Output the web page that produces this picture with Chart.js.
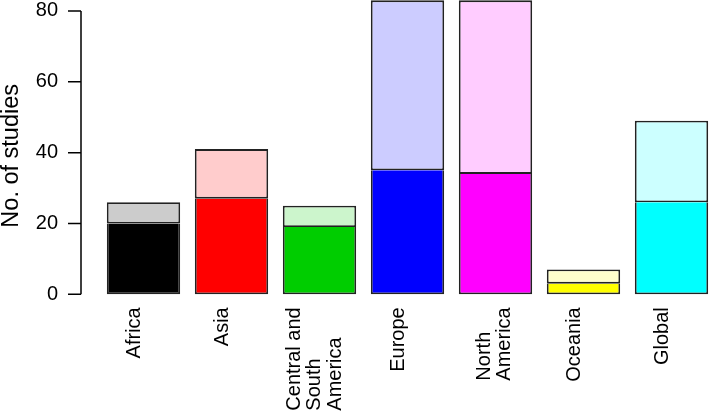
<!DOCTYPE html>
<html>
<head>
<meta charset="utf-8">
<title>Studies by region</title>
<script src="https://cdn.jsdelivr.net/npm/chart.js@4/dist/chart.umd.min.js"></script>
<style>
  html, body { margin: 0; padding: 0; background: #fff; overflow: hidden; }
  #wrap { position: relative; width: 720px; height: 411px; }
</style>
</head>
<body>
<div id="wrap"><canvas id="studiesChart"></canvas></div>
<script>
// Data
const regions = [
  ["Africa"],
  ["Asia"],
  ["Central and", "South", "America"],
  ["Europe"],
  ["North", "America"],
  ["Oceania"],
  ["Global"],
];
const lowerCounts = [20, 27, 19, 35, 34, 3, 26];
const upperCounts = [6, 14, 6, 48, 49, 4, 23];
const yTicks = [0, 20, 40, 60, 80];

const lowerColours = ["#000000", "#ff0000", "#00cd00", "#0000ff", "#ff00ff", "#ffff00", "#00ffff"];
const upperColours = ["#cccccc", "#ffcccc", "#ccf5cc", "#ccccff", "#ffccff", "#ffffcc", "#ccffff"];

const FONT = "'Liberation Sans', Arial, Helvetica, sans-serif";

// R style axis: line only between first and last tick, ticks pointing out
const rAxisPlugin = {
  id: "rAxis",
  afterDraw(chart) {
    const ctx = chart.ctx;
    const y = chart.scales.y;
    const x = chart.scales.x;
    const axisX = y.right - 18.5;

    ctx.save();
    ctx.strokeStyle = "#000";
    ctx.lineWidth = 1.5;
    ctx.beginPath();
    ctx.moveTo(axisX, y.getPixelForValue(yTicks[0]));
    ctx.lineTo(axisX, y.getPixelForValue(yTicks[yTicks.length - 1]));
    yTicks.forEach((v) => {
      const py = y.getPixelForValue(v);
      ctx.moveTo(axisX - 13, py);
      ctx.lineTo(axisX, py);
    });
    ctx.stroke();

    // vertical category labels, lines start together at the bottom
    const lineGap = 20.5;
    const blockShift = { 1: -9, 2: -1, 3: -5 };
    const top = y.getPixelForValue(0) + 13;
    ctx.font = "20px " + FONT;
    ctx.fillStyle = "#000";
    ctx.textBaseline = "middle";
    ctx.textAlign = "left";
    chart.data.labels.forEach((lines, i) => {
      const cx = x.getPixelForValue(i);
      const n = lines.length;
      const widest = Math.max(...lines.map((l) => ctx.measureText(l).width));
      lines.forEach((line, k) => {
        const px = cx + blockShift[n] + (k - (n - 1) / 2) * lineGap;
        ctx.save();
        ctx.translate(px, top + widest);
        ctx.rotate(-Math.PI / 2);
        ctx.fillText(line, 0, 0);
        ctx.restore();
      });
    });
    ctx.restore();
  },
};

function buildChart() {
  const ctx = document.getElementById("studiesChart").getContext("2d");

  const barStyle = {
    borderColor: "#222",
    borderWidth: 1.8,
    categoryPercentage: 1,
    barPercentage: 0.8333,
  };

  return new Chart(ctx, {
    type: "bar",
    data: {
      labels: regions,
      datasets: [
        // lower part leaves its top edge to the upper part, so the joint is one line
        { label: "lower", data: lowerCounts, backgroundColor: lowerColours, borderSkipped: "top", ...barStyle },
        { label: "upper", data: upperCounts, backgroundColor: upperColours, borderSkipped: false, ...barStyle },
      ],
    },
    options: {
      responsive: true,
      maintainAspectRatio: false,
      animation: false,
      layout: { padding: { left: 0, right: 4.5, top: 0, bottom: 0 } },
      plugins: {
        legend: { display: false },
        tooltip: { enabled: false },
      },
      scales: {
        x: {
          stacked: true,
          offset: true,
          grid: { display: false, drawTicks: false },
          border: { display: false },
          ticks: { display: false, autoSkip: false },
          afterFit: (scale) => {
            scale.height = 99.4;
            scale.paddingLeft = 0;
            scale.paddingRight = 0;
          },
        },
        y: {
          stacked: true,
          min: -4.89,
          max: 83.1,
          grid: { display: false, drawTicks: false },
          border: { display: false },
          afterBuildTicks: (scale) => {
            scale.ticks = yTicks.map((v) => ({ value: v }));
          },
          ticks: {
            padding: 41.5,
            color: "#000",
            font: { family: FONT, size: 20 },
          },
          title: {
            display: true,
            text: "No. of studies",
            color: "#000",
            font: { family: FONT, size: 23.5, lineHeight: 1 },
            padding: 0,
          },
          afterFit: (scale) => {
            scale.width = 99.5;
            scale.paddingTop = 0;
            scale.paddingBottom = 0;
          },
        },
      },
    },
    plugins: [rAxisPlugin],
  });
}

document.addEventListener("DOMContentLoaded", () => {
  buildChart();
});
</script>
</body>
</html>
